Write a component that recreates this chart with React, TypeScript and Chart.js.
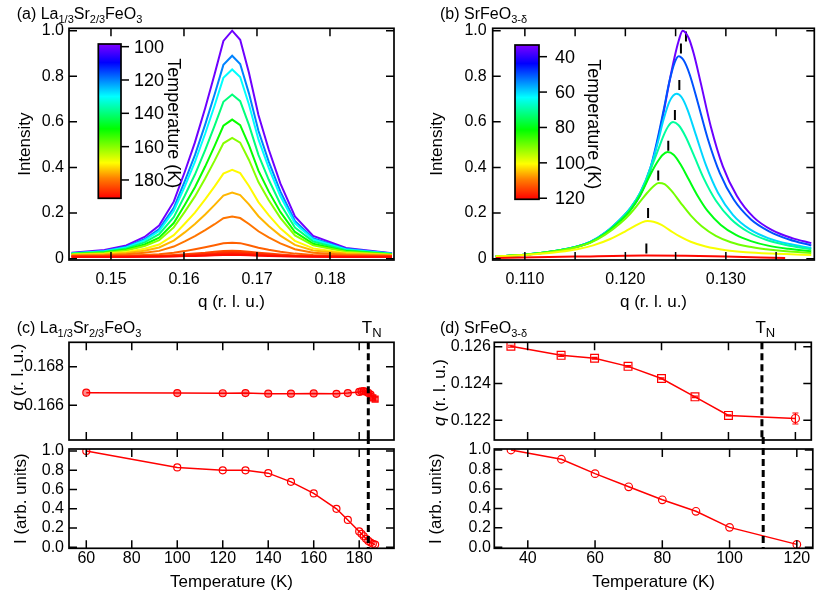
import React, { useEffect, useRef } from 'react';
import { Chart, registerables } from 'chart.js';

Chart.register(...registerables);

const FONT = '"Liberation Sans", Arial, Helvetica, sans-serif';
Chart.defaults.font.family = FONT;
Chart.defaults.color = '#000';

// ================= Panel (a): La1/3Sr2/3FeO3 q-scans =================
const A_Q = [0.1446, 0.1491, 0.1521, 0.1546, 0.1566, 0.1586, 0.1601, 0.1615, 0.1629, 0.1642, 0.1654, 0.1666, 0.1677, 0.1689, 0.1702, 0.1716, 0.1732, 0.1752, 0.1777, 0.1822, 0.1885];
const A_I_100 = [0.026, 0.038, 0.058, 0.095, 0.145, 0.25, 0.38, 0.51, 0.66, 0.81, 0.955, 1.0, 0.96, 0.815, 0.63, 0.48, 0.33, 0.185, 0.1, 0.047, 0.024];
const A_I_120 = [0.024, 0.034, 0.052, 0.085, 0.130, 0.223, 0.339, 0.454, 0.588, 0.721, 0.850, 0.890, 0.854, 0.725, 0.561, 0.427, 0.295, 0.165, 0.09, 0.043, 0.022];
const A_I_130 = [0.023, 0.032, 0.049, 0.080, 0.121, 0.209, 0.316, 0.424, 0.548, 0.672, 0.793, 0.830, 0.797, 0.676, 0.523, 0.399, 0.275, 0.155, 0.084, 0.040, 0.021];
const A_I_140 = [0.021, 0.030, 0.045, 0.071, 0.107, 0.182, 0.276, 0.369, 0.476, 0.584, 0.688, 0.720, 0.691, 0.587, 0.455, 0.347, 0.240, 0.136, 0.075, 0.037, 0.020];
const A_I_150 = [0.020, 0.027, 0.040, 0.062, 0.092, 0.156, 0.235, 0.313, 0.404, 0.495, 0.583, 0.610, 0.586, 0.498, 0.386, 0.295, 0.205, 0.117, 0.065, 0.033, 0.019];
const A_I_160 = [0.019, 0.025, 0.036, 0.055, 0.081, 0.137, 0.205, 0.273, 0.352, 0.430, 0.506, 0.530, 0.509, 0.433, 0.336, 0.257, 0.179, 0.102, 0.058, 0.030, 0.018];
const A_I_170 = [0.017, 0.021, 0.029, 0.043, 0.062, 0.103, 0.153, 0.202, 0.260, 0.317, 0.373, 0.390, 0.375, 0.319, 0.248, 0.191, 0.133, 0.078, 0.045, 0.025, 0.016];
const A_I_175 = [0.016, 0.019, 0.025, 0.035, 0.049, 0.079, 0.115, 0.152, 0.194, 0.236, 0.277, 0.290, 0.279, 0.238, 0.186, 0.143, 0.101, 0.060, 0.036, 0.022, 0.015];
const A_I_180 = [0.013, 0.015, 0.019, 0.026, 0.034, 0.053, 0.076, 0.099, 0.125, 0.151, 0.177, 0.185, 0.178, 0.152, 0.120, 0.093, 0.067, 0.041, 0.026, 0.017, 0.013];
const A_I_182 = [0.012, 0.013, 0.014, 0.016, 0.019, 0.026, 0.033, 0.041, 0.050, 0.059, 0.067, 0.070, 0.068, 0.059, 0.048, 0.039, 0.030, 0.022, 0.016, 0.013, 0.012];
const A_I_184 = [0.010, 0.010, 0.011, 0.012, 0.013, 0.016, 0.019, 0.023, 0.026, 0.030, 0.034, 0.035, 0.034, 0.030, 0.026, 0.022, 0.018, 0.014, 0.012, 0.011, 0.010];
const A_I_186 = [0.009, 0.009, 0.010, 0.010, 0.011, 0.013, 0.016, 0.018, 0.021, 0.024, 0.027, 0.028, 0.027, 0.025, 0.021, 0.018, 0.015, 0.012, 0.010, 0.009, 0.009];
const A_I_188 = [0.008, 0.008, 0.008, 0.009, 0.010, 0.011, 0.013, 0.015, 0.017, 0.019, 0.021, 0.022, 0.021, 0.019, 0.017, 0.015, 0.012, 0.010, 0.009, 0.008, 0.008];
const A_I_190 = [0.007, 0.007, 0.007, 0.008, 0.008, 0.009, 0.011, 0.012, 0.013, 0.015, 0.016, 0.017, 0.016, 0.015, 0.013, 0.012, 0.010, 0.009, 0.008, 0.007, 0.007];
const A_TEMPS = [100, 120, 130, 140, 150, 160, 170, 175, 180, 182, 184, 186, 188, 190];
const A_CURVES = [A_I_100, A_I_120, A_I_130, A_I_140, A_I_150, A_I_160, A_I_170, A_I_175, A_I_180, A_I_182, A_I_184, A_I_186, A_I_188, A_I_190];
const A_X_TICKS = [0.15, 0.16, 0.17, 0.18];
const A_X_LABELS = ['0.15', '0.16', '0.17', '0.18'];
const I_TICKS = [0, 0.2, 0.4, 0.6, 0.8, 1.0];
const AB_I_LABELS = ['0', '0.2', '0.4', '0.6', '0.8', '1.0'];
const A_CB_TICKS = [100, 120, 140, 160, 180];
const A_CB_RANGE = [98.4, 191];

// ================= Panel (b): SrFeO3-d q-scans =================
const B_Q_35 = [0.1071, 0.1100, 0.1130, 0.1150, 0.1165, 0.1180, 0.1195, 0.1205, 0.1215, 0.1225, 0.1232, 0.1238, 0.1244, 0.1249, 0.1253, 0.1257, 0.1263, 0.1268, 0.1275, 0.1285, 0.1297, 0.1311, 0.1328, 0.1346, 0.1366, 0.1385];
const B_I_35 = [0.009, 0.016, 0.032, 0.050, 0.071, 0.112, 0.170, 0.215, 0.280, 0.390, 0.515, 0.640, 0.780, 0.885, 0.955, 1.000, 0.968, 0.900, 0.771, 0.580, 0.405, 0.275, 0.180, 0.125, 0.090, 0.068];
const B_Q_50 = [0.1071, 0.1100, 0.1130, 0.1150, 0.1165, 0.1180, 0.1195, 0.1205, 0.1215, 0.1225, 0.1232, 0.1238, 0.1244, 0.1249, 0.1253, 0.1258, 0.1264, 0.1272, 0.1282, 0.1294, 0.1308, 0.1325, 0.1343, 0.1363, 0.1385];
const B_I_50 = [0.010, 0.017, 0.033, 0.051, 0.073, 0.114, 0.173, 0.222, 0.290, 0.400, 0.525, 0.650, 0.780, 0.860, 0.888, 0.870, 0.808, 0.686, 0.526, 0.375, 0.258, 0.172, 0.120, 0.084, 0.058];
const B_Q_60 = [0.1071, 0.1100, 0.1130, 0.1150, 0.1165, 0.1180, 0.1195, 0.1205, 0.1215, 0.1225, 0.1232, 0.1238, 0.1244, 0.1251, 0.1256, 0.1262, 0.1270, 0.1280, 0.1292, 0.1307, 0.1324, 0.1342, 0.1362, 0.1385];
const B_I_60 = [0.010, 0.017, 0.033, 0.051, 0.073, 0.114, 0.173, 0.222, 0.292, 0.400, 0.505, 0.610, 0.690, 0.723, 0.708, 0.652, 0.545, 0.412, 0.290, 0.192, 0.128, 0.090, 0.065, 0.047];
const B_Q_70 = [0.1071, 0.1100, 0.1130, 0.1150, 0.1165, 0.1180, 0.1195, 0.1205, 0.1215, 0.1225, 0.1232, 0.1238, 0.1243, 0.12475, 0.1253, 0.1260, 0.1268, 0.1278, 0.1290, 0.1305, 0.1322, 0.1340, 0.1360, 0.1385];
const B_I_70 = [0.010, 0.017, 0.033, 0.051, 0.072, 0.112, 0.170, 0.218, 0.288, 0.390, 0.470, 0.540, 0.583, 0.599, 0.585, 0.535, 0.455, 0.352, 0.255, 0.174, 0.118, 0.083, 0.060, 0.041];
const B_Q_80 = [0.1071, 0.1100, 0.1130, 0.1150, 0.1165, 0.1180, 0.1195, 0.1205, 0.1215, 0.1225, 0.1232, 0.1237, 0.1242, 0.1248, 0.1255, 0.1263, 0.1272, 0.1282, 0.1295, 0.1310, 0.1325, 0.1342, 0.1362, 0.1385];
const B_I_80 = [0.010, 0.017, 0.033, 0.050, 0.071, 0.110, 0.166, 0.212, 0.280, 0.370, 0.425, 0.455, 0.468, 0.456, 0.413, 0.348, 0.275, 0.208, 0.148, 0.104, 0.077, 0.057, 0.043, 0.032];
const B_Q_90 = [0.1071, 0.1100, 0.1130, 0.1150, 0.1165, 0.1180, 0.1195, 0.1205, 0.1215, 0.1222, 0.1228, 0.1233, 0.1239, 0.1246, 0.1255, 0.1265, 0.1276, 0.1290, 0.1305, 0.1322, 0.1340, 0.1360, 0.1385];
const B_I_90 = [0.010, 0.017, 0.032, 0.049, 0.069, 0.105, 0.155, 0.198, 0.252, 0.290, 0.318, 0.332, 0.327, 0.297, 0.245, 0.190, 0.142, 0.100, 0.072, 0.053, 0.041, 0.032, 0.025];
const B_Q_100 = [0.1071, 0.1100, 0.1135, 0.1152, 0.1168, 0.1185, 0.1200, 0.1210, 0.1216, 0.1222, 0.1228, 0.1236, 0.1245, 0.1255, 0.1265, 0.1280, 0.1300, 0.1320, 0.1345, 0.1365, 0.1385];
const B_I_100 = [0.010, 0.016, 0.030, 0.041, 0.058, 0.086, 0.120, 0.145, 0.158, 0.165, 0.162, 0.148, 0.122, 0.095, 0.074, 0.053, 0.037, 0.028, 0.022, 0.019, 0.016];
const B_Q_120 = [0.1071, 0.1150, 0.1220, 0.1260, 0.1300, 0.1359];
const B_I_120 = [0.003, 0.009, 0.014, 0.013, 0.009, 0.003];
const B_TEMPS = [35, 50, 60, 70, 80, 90, 100, 120];
const B_QS = [B_Q_35, B_Q_50, B_Q_60, B_Q_70, B_Q_80, B_Q_90, B_Q_100, B_Q_120];
const B_IS = [B_I_35, B_I_50, B_I_60, B_I_70, B_I_80, B_I_90, B_I_100, B_I_120];
const B_MARK_I = [0.975, 0.922, 0.762, 0.63, 0.495, 0.365, 0.2, 0.044];
const B_X_TICKS = [0.110, 0.115, 0.120, 0.125, 0.130, 0.135];
const B_X_LABELS = ['0.110', '', '0.120', '', '0.130', ''];
const B_CB_TICKS = [40, 60, 80, 100, 120];
const B_CB_RANGE = [33.4, 120.6];

// ================= Panel (c): La1/3Sr2/3FeO3 vs T =================
const C_T = [60, 100, 120, 130, 140, 150, 160, 170, 175, 180, 181, 182, 183, 184, 185, 186, 187];
const C_Q = [0.16665, 0.16663, 0.16662, 0.16663, 0.1666, 0.1666, 0.16661, 0.16659, 0.16663, 0.16669, 0.16672, 0.16673, 0.1667, 0.16664, 0.16655, 0.16638, 0.16632];
const C_Q_ERR = [0, 0, 0, 0, 0, 0, 0, 0, 0, 0, 0, 0, 0.00002, 0.00003, 0.00005, 0.0001, 0.0001];
const C_I = [1.0, 0.83, 0.80, 0.80, 0.77, 0.68, 0.56, 0.40, 0.284, 0.165, 0.14, 0.115, 0.088, 0.066, 0.05, 0.036, 0.028];
const C_T_TICKS = [60, 80, 100, 120, 140, 160, 180];
const C_T_LABELS = ['60', '80', '100', '120', '140', '160', '180'];
const C_Q_TICKS = [0.166, 0.168];
const C_Q_LABELS = ['0.166', '0.168'];
const C_TN = 184;

// ================= Panel (d): SrFeO3-d vs T =================
const D_T = [35, 50, 60, 70, 80, 90, 100, 120];
const D_Q = [0.12603, 0.12553, 0.12537, 0.12493, 0.12427, 0.12327, 0.12226, 0.12209];
const D_Q_ERR = [0.00005, 0.00006, 0.00005, 0.00004, 0.00004, 0.00004, 0.00003, 0.0003];
const D_I = [1.0, 0.905, 0.757, 0.622, 0.488, 0.37, 0.205, 0.03];
const D_T_TICKS = [40, 60, 80, 100, 120];
const D_T_LABELS = ['40', '60', '80', '100', '120'];
const D_Q_TICKS = [0.122, 0.124, 0.126];
const D_Q_LABELS = ['0.122', '0.124', '0.126'];
const D_TN = 110;
const CD_I_LABELS = ['0.0', '0.2', '0.4', '0.6', '0.8', '1.0'];

// ================= helpers =================
const CMAP: [number, string][] = [
  [0, '#8000ff'], [0.12, '#0000ff'], [0.34, '#00ffff'], [0.55, '#00ff00'],
  [0.77, '#ffff00'], [0.87, '#ff8000'], [1, '#ff0000'],
];
function hex(h: string) {
  return [parseInt(h.slice(1, 3), 16), parseInt(h.slice(3, 5), 16), parseInt(h.slice(5, 7), 16)];
}
function cmap(t: number) {
  t = Math.max(0, Math.min(1, t));
  for (let i = 1; i < CMAP.length; i++) {
    const [t1, c1] = CMAP[i];
    const [t0, c0] = CMAP[i - 1];
    if (t <= t1) {
      const f = (t - t0) / (t1 - t0);
      const a = hex(c0), b = hex(c1);
      return `rgb(${Math.round(a[0] + (b[0] - a[0]) * f)},${Math.round(a[1] + (b[1] - a[1]) * f)},${Math.round(a[2] + (b[2] - a[2]) * f)})`;
    }
  }
  return CMAP[CMAP.length - 1][1];
}

function axis(o: any) {
  return {
    type: 'linear',
    position: o.pos === 'x' ? 'bottom' : 'left',
    min: o.min,
    max: o.max,
    grid: { display: false, drawTicks: false },
    border: { display: false },
    afterBuildTicks: (s: any) => { s.ticks = o.ticks.map((v: number) => ({ value: v })); },
    afterFit: (s: any) => {
      if (o.pos === 'x') s.height = o.size; else s.width = o.size;
      s.paddingLeft = 0; s.paddingRight = 0; s.paddingTop = 0; s.paddingBottom = 0;
    },
    ticks: {
      display: !!o.labels,
      autoSkip: false,
      maxRotation: 0,
      minRotation: 0,
      padding: o.pad ?? 5,
      color: '#000',
      font: { family: FONT, size: 16 },
      callback: (_v: any, i: number) => (o.labels ? o.labels[i] : ''),
    },
    title: o.title
      ? { display: true, text: o.title, color: '#000', font: { family: FONT, size: 17 }, padding: { top: o.tpad ?? 0, bottom: o.tpad ?? 0 } }
      : { display: false },
  };
}

function decor(d: any) {
  return {
    id: 'decor',
    afterDatasetsDraw(chart: any) {
      const { ctx, chartArea: ca, scales } = chart;
      const xs = scales.x, ys = scales.y;
      ctx.save();
      // error bars
      chart.data.datasets.forEach((ds: any) => {
        if (!ds.errY) return;
        ctx.strokeStyle = ds.borderColor;
        ctx.lineWidth = 1.2;
        ds.data.forEach((p: any, i: number) => {
          const e = ds.errY[i];
          if (!e) return;
          const px = xs.getPixelForValue(p.x);
          const y1 = ys.getPixelForValue(p.y - e), y2 = ys.getPixelForValue(p.y + e);
          ctx.beginPath();
          ctx.moveTo(px, y1); ctx.lineTo(px, y2);
          ctx.moveTo(px - 3, y1); ctx.lineTo(px + 3, y1);
          ctx.moveTo(px - 3, y2); ctx.lineTo(px + 3, y2);
          ctx.stroke();
        });
      });
      // T_N line
      if (d.tn) {
        const px = xs.getPixelForValue(d.tn.value);
        ctx.strokeStyle = '#000';
        ctx.lineWidth = 3;
        ctx.setLineDash([7, 4]);
        ctx.beginPath();
        ctx.moveTo(px, d.tn.fromCanvasTop ? 0 : ca.top);
        ctx.lineTo(px, ca.bottom);
        ctx.stroke();
        ctx.setLineDash([]);
        if (d.tn.label) {
          ctx.fillStyle = '#000';
          ctx.textAlign = 'left';
          ctx.textBaseline = 'alphabetic';
          ctx.font = `17px ${FONT}`;
          const tx = px - 6.5, ty = ca.top - 9;
          ctx.fillText('T', tx, ty);
          const w = ctx.measureText('T').width;
          ctx.font = `13px ${FONT}`;
          ctx.fillText('N', tx + w, ty + 3.5);
        }
      }
      // frame + inward ticks
      ctx.strokeStyle = '#000';
      ctx.lineWidth = 1.7;
      ctx.strokeRect(ca.left, ca.top, ca.right - ca.left, ca.bottom - ca.top);
      const L = d.tickLen ?? 8;
      ctx.lineWidth = 1.5;
      ctx.beginPath();
      xs.ticks.forEach((t: any) => {
        const px = xs.getPixelForValue(t.value);
        if (px < ca.left - 0.5 || px > ca.right + 0.5) return;
        ctx.moveTo(px, ca.bottom); ctx.lineTo(px, ca.bottom - L);
        ctx.moveTo(px, ca.top); ctx.lineTo(px, ca.top + L);
      });
      ys.ticks.forEach((t: any) => {
        const py = ys.getPixelForValue(t.value);
        if (py < ca.top - 0.5 || py > ca.bottom + 0.5) return;
        ctx.moveTo(ca.left, py); ctx.lineTo(ca.left + L, py);
        ctx.moveTo(ca.right, py); ctx.lineTo(ca.right - L, py);
      });
      ctx.stroke();
      // colorbar
      if (d.cb) {
        const cb = d.cb;
        const x = ca.left + cb.dx, y = ca.top + cb.dy, w = cb.w, h = cb.h;
        const g = ctx.createLinearGradient(0, y, 0, y + h);
        CMAP.forEach(([t, c]) => g.addColorStop(t, c));
        ctx.fillStyle = g;
        ctx.fillRect(x, y, w, h);
        ctx.strokeStyle = '#000';
        ctx.lineWidth = 1.7;
        ctx.strokeRect(x, y, w, h);
        ctx.lineWidth = 1.5;
        ctx.fillStyle = '#000';
        ctx.font = `18px ${FONT}`;
        ctx.textAlign = 'left';
        ctx.textBaseline = 'middle';
        cb.ticks.forEach((v: number) => {
          const yy = y + ((v - cb.range[0]) / (cb.range[1] - cb.range[0])) * h;
          ctx.beginPath();
          ctx.moveTo(x + w, yy); ctx.lineTo(x + w + 8, yy);
          ctx.stroke();
          ctx.fillText(String(v), x + w + cb.labelDx, yy + 1);
        });
        ctx.save();
        ctx.translate(x + w + cb.titleDx, y + h / 2 + 2);
        ctx.rotate(Math.PI / 2);
        ctx.textAlign = 'center';
        ctx.fillText('Temperature (K)', 0, 0);
        ctx.restore();
      }
      // rich y title (italic q)
      if (d.qTitle) {
        ctx.save();
        ctx.translate(d.qTitle.cx, d.qTitle.cy);
        ctx.rotate(-Math.PI / 2);
        ctx.fillStyle = '#000';
        ctx.textBaseline = 'middle';
        ctx.textAlign = 'left';
        const f1 = `italic 17px ${FONT}`, f2 = `17px ${FONT}`;
        ctx.font = f1; const w1 = ctx.measureText('q').width;
        ctx.font = f2; const w2 = ctx.measureText(' (r. l. u.)').width;
        const x0 = -(w1 + w2) / 2;
        ctx.font = f1; ctx.fillText('q', x0, 0);
        ctx.font = f2; ctx.fillText(' (r. l. u.)', x0 + w1, 0);
        ctx.restore();
      }
      ctx.restore();
    },
  };
}

const BASE_OPTS = {
  responsive: false,
  animation: false,
  events: [],
  plugins: { legend: { display: false }, tooltip: { enabled: false } },
};

function cfgA() {
  const datasets = A_CURVES.map((arr, k) => ({
    data: A_Q.map((q, i) => ({ x: q, y: arr[i] })),
    showLine: true,
    borderColor: cmap((A_TEMPS[k] - A_CB_RANGE[0]) / (A_CB_RANGE[1] - A_CB_RANGE[0])),
    borderWidth: 2,
    pointRadius: 0,
    tension: 0,
  })).reverse();
  return {
    type: 'scatter',
    data: { datasets },
    options: {
      ...BASE_OPTS,
      layout: { padding: { left: 0, top: 28.3, right: 15, bottom: 0 } },
      scales: {
        x: axis({ pos: 'x', min: 0.14425, max: 0.18877, ticks: A_X_TICKS, labels: A_X_LABELS, size: 55, pad: 10, title: 'q (r. l. u.)', tpad: 2.8 }),
        y: axis({ pos: 'y', min: -0.006, max: 1.0105, ticks: I_TICKS, labels: AB_I_LABELS, size: 69, pad: 5, title: 'Intensity', tpad: 14.8 }),
      },
    },
    plugins: [decor({ cb: { range: A_CB_RANGE, ticks: A_CB_TICKS, dx: 29.3, dy: 15.7, w: 22.7, h: 154.3, labelDx: 13, titleDx: 52 } })],
  };
}

function cfgB() {
  const curves = B_QS.map((qs, k) => ({
    data: qs.map((q, i) => ({ x: q, y: B_IS[k][i] })),
    showLine: true,
    borderColor: cmap((B_TEMPS[k] - B_CB_RANGE[0]) / (B_CB_RANGE[1] - B_CB_RANGE[0])),
    borderWidth: 2,
    pointRadius: 0,
    cubicInterpolationMode: 'monotone',
  })).reverse();
  const marks = D_Q.map((q, k) => ({
    data: [{ x: q, y: B_MARK_I[k] - 0.022 }, { x: q, y: B_MARK_I[k] + 0.022 }],
    showLine: true,
    borderColor: '#000',
    borderWidth: 2,
    pointRadius: 0,
  }));
  return {
    type: 'scatter',
    data: { datasets: [...curves, ...marks] },
    options: {
      ...BASE_OPTS,
      layout: { padding: { left: 0, top: 28.3, right: 3.7, bottom: 0 } },
      scales: {
        x: axis({ pos: 'x', min: 0.1068, max: 0.1388, ticks: B_X_TICKS, labels: B_X_LABELS, size: 55, pad: 10, title: 'q (r. l. u.)', tpad: 2.8 }),
        y: axis({ pos: 'y', min: -0.006, max: 1.0105, ticks: I_TICKS, labels: AB_I_LABELS, size: 83.7, pad: 6, title: 'Intensity', tpad: 18.3 }),
      },
    },
    plugins: [decor({ cb: { range: B_CB_RANGE, ticks: B_CB_TICKS, dx: 22.3, dy: 16.7, w: 24, h: 154.3, labelDx: 16, titleDx: 54.3 } })],
  };
}

function cfgC1() {
  return {
    type: 'scatter',
    data: {
      datasets: [{
        data: C_T.map((t, i) => ({ x: t, y: C_Q[i] })),
        errY: C_Q_ERR,
        showLine: true,
        borderColor: '#ff0000',
        borderWidth: 1.5,
        pointRadius: C_T.map((_, i) => (i >= C_T.length - 2 ? 4.2 : 3.5)),
        pointStyle: C_T.map((_, i) => (i >= C_T.length - 2 ? 'rect' : 'circle')),
        pointBackgroundColor: 'rgba(255,0,0,0.45)',
        pointBorderColor: '#ff0000',
        pointBorderWidth: 1.2,
      }],
    },
    options: {
      ...BASE_OPTS,
      layout: { padding: { left: 0, top: 27.3, right: 15, bottom: 0 } },
      scales: {
        x: axis({ pos: 'x', min: 52.4, max: 195.3, ticks: C_T_TICKS, labels: null, size: 12 }),
        y: axis({ pos: 'y', min: 0.1642, max: 0.16926, ticks: C_Q_TICKS, labels: C_Q_LABELS, size: 69, pad: 5 }),
      },
    },
    plugins: [decor({ tn: { value: C_TN, label: true }, qTitle: { cx: 18.5, cy: 62 } })],
  };
}

function cfgC2() {
  return {
    type: 'scatter',
    data: {
      datasets: [{
        data: C_T.map((t, i) => ({ x: t, y: C_I[i] })),
        showLine: true,
        borderColor: '#ff0000',
        borderWidth: 1.5,
        pointRadius: 3.5,
        pointStyle: 'circle',
        pointBackgroundColor: 'rgba(255,255,255,0)',
        pointBorderColor: '#ff0000',
        pointBorderWidth: 1.2,
      }],
    },
    options: {
      ...BASE_OPTS,
      layout: { padding: { left: 0, top: 12, right: 15, bottom: 0 } },
      scales: {
        x: axis({ pos: 'x', min: 52.4, max: 195.3, ticks: C_T_TICKS, labels: C_T_LABELS, size: 44.7, pad: 1, title: 'Temperature (K)', tpad: 0.3 }),
        y: axis({ pos: 'y', min: -0.0104, max: 1.021, ticks: I_TICKS, labels: CD_I_LABELS, size: 69, pad: 5, title: 'I (arb. units)', tpad: 10.8 }),
      },
    },
    plugins: [decor({ tn: { value: C_TN, fromCanvasTop: true } })],
  };
}

function cfgD1() {
  return {
    type: 'scatter',
    data: {
      datasets: [{
        data: D_T.map((t, i) => ({ x: t, y: D_Q[i] })),
        errY: D_Q_ERR,
        showLine: true,
        borderColor: '#ff0000',
        borderWidth: 1.5,
        pointRadius: D_T.map((_, i) => (i === D_T.length - 1 ? 4 : 5.5)),
        pointStyle: D_T.map((_, i) => (i === D_T.length - 1 ? 'circle' : 'rect')),
        pointBackgroundColor: 'rgba(255,255,255,0)',
        pointBorderColor: '#ff0000',
        pointBorderWidth: 1.2,
      }],
    },
    options: {
      ...BASE_OPTS,
      layout: { padding: { left: 0, top: 27.3, right: 4.7, bottom: 0 } },
      scales: {
        x: axis({ pos: 'x', min: 30.04, max: 124.75, ticks: D_T_TICKS, labels: null, size: 12 }),
        y: axis({ pos: 'y', min: 0.12092, max: 0.12624, ticks: D_Q_TICKS, labels: D_Q_LABELS, size: 85.3, pad: 3.5 }),
      },
    },
    plugins: [decor({ tn: { value: D_TN, label: true }, qTitle: { cx: 31, cy: 77.5 } })],
  };
}

function cfgD2() {
  return {
    type: 'scatter',
    data: {
      datasets: [{
        data: D_T.map((t, i) => ({ x: t, y: D_I[i] })),
        showLine: true,
        borderColor: '#ff0000',
        borderWidth: 1.5,
        pointRadius: 3.8,
        pointStyle: 'circle',
        pointBackgroundColor: 'rgba(255,255,255,0)',
        pointBorderColor: '#ff0000',
        pointBorderWidth: 1.2,
      }],
    },
    options: {
      ...BASE_OPTS,
      layout: { padding: { left: 0, top: 12, right: 4.7, bottom: 0 } },
      scales: {
        x: axis({ pos: 'x', min: 30.04, max: 124.75, ticks: D_T_TICKS, labels: D_T_LABELS, size: 44.7, pad: 1, title: 'Temperature (K)', tpad: 0.3 }),
        y: axis({ pos: 'y', min: -0.0103, max: 1.0103, ticks: I_TICKS, labels: CD_I_LABELS, size: 85.3, pad: 3.5, title: 'I (arb. units)', tpad: 17.3 }),
      },
    },
    plugins: [decor({ tn: { value: D_TN, fromCanvasTop: true } })],
  };
}

function Panel({ left, top, width, height, make }: any) {
  const ref = useRef<HTMLCanvasElement>(null);
  useEffect(() => {
    const chart = new Chart(ref.current as any, make() as any);
    return () => chart.destroy();
  }, []);
  return <canvas ref={ref} width={width} height={height} style={{ position: 'absolute', left, top, width, height }} />;
}

const sub: any = { fontSize: 11, position: 'relative', top: 4 };
const titleStyle = (left: number, top: number): any => ({
  position: 'absolute', left, top, font: `16px ${FONT}`, lineHeight: '16px', whiteSpace: 'nowrap', color: '#000',
});

export default function App() {
  return (
    <div style={{ position: 'absolute', left: 0, top: 0, width: 818, height: 593, background: '#fff', overflow: 'hidden' }}>
      <Panel left={0} top={0} width={409} height={315} make={cfgA} />
      <Panel left={409} top={0} width={409} height={315} make={cfgB} />
      <Panel left={0} top={315} width={409} height={137} make={cfgC1} />
      <Panel left={0} top={437} width={409} height={156} make={cfgC2} />
      <Panel left={409} top={315} width={409} height={137} make={cfgD1} />
      <Panel left={409} top={437} width={409} height={156} make={cfgD2} />
      <div style={titleStyle(16.7, 5.5)}>(a) La<span style={sub}>1/3</span>Sr<span style={sub}>2/3</span>FeO<span style={sub}>3</span></div>
      <div style={titleStyle(440, 5.5)}>(b) SrFeO<span style={sub}>3-δ</span></div>
      <div style={titleStyle(16.7, 319.8)}>(c) La<span style={sub}>1/3</span>Sr<span style={sub}>2/3</span>FeO<span style={sub}>3</span></div>
      <div style={titleStyle(440, 319.8)}>(d) SrFeO<span style={sub}>3-δ</span></div>
    </div>
  );
}
